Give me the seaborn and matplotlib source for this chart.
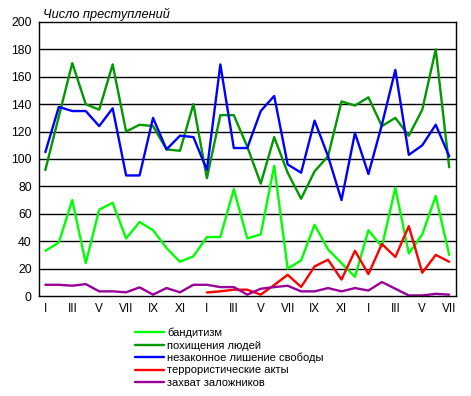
import pandas as pd
import matplotlib.pyplot as plt
import seaborn as sns

# --- dane: miesiące (I..XII, I..XII, I..VII) ---
months = ['I', 'II', 'III', 'IV', 'V', 'VI', 'VII', 'VIII', 'IX', 'X', 'XI', 'XII'] * 2 + \
         ['I', 'II', 'III', 'IV', 'V', 'VI', 'VII']

banditism = [33, 39, 70, 24, 63, 68, 42, 54, 48, 35, 25, 29, 43, 43, 78, 42, 45, 95, 20, 26,
             52, 34, 24, 14, 48, 36, 79, 31, 45, 73, 30]
kidnapping = [92, 131, 170, 140, 136, 169, 120, 125, 124, 107, 106, 140, 86, 132, 132, 109,
              82, 116, 90, 71, 91, 102, 142, 139, 145, 124, 130, 117, 136, 180, 94]
unlawful = [105, 138, 135, 135, 124, 137, 88, 88, 130, 107, 117, 116, 92, 169, 108, 108,
            135, 146, 96, 90, 128, 102, 70, 119, 89, 125, 165, 103, 110, 125, 102]
terror = [None] * 12 + [2.6, 3.4, 4.6, 4.6, 1, 8, 15.5, 6.6, 21.6, 26.5, 12, 33, 16, 38,
                        28.5, 51, 17, 30, 25]
hostages = [8.2, 8.2, 7.5, 8.7, 3.4, 3.4, 2.7, 6.3, 1, 5.8, 2.7, 8.2, 8.2, 6.5, 6.5, 1,
            5.3, 6.5, 7.5, 3.4, 3.4, 5.8, 3.4, 5.8, 4, 10.2, 5.3, 0.4, 0.4, 1.6, 1]

names = ['бандитизм', 'похищения людей', 'незаконное лишение свободы',
         'террористические акты', 'захват заложников']
colors = ['#00FF00', '#009900', '#0000FF', '#FF0000', '#990099']

series = [banditism, kidnapping, unlawful, terror, hostages]
rows = []
for name, vals in zip(names, series):
    for i, v in enumerate(vals):
        if v is not None:
            rows.append({'idx': i, 'value': v, 'series': name})
df = pd.DataFrame(rows)

sns.set_style("white")
plt.rcParams['font.family'] = ['Liberation Sans', 'DejaVu Sans']
plt.rcParams['font.size'] = 8
plt.rcParams['text.color'] = 'black'
plt.rcParams['xtick.color'] = 'black'
plt.rcParams['ytick.color'] = 'black'

fig = plt.figure(figsize=(4.71, 3.96), dpi=100)
ax = fig.add_axes([0.082, 0.2525, 0.886, 0.692])

sns.lineplot(data=df, x='idx', y='value', hue='series', hue_order=names,
             palette=dict(zip(names, colors)), linewidth=1.7, sort=False, ax=ax)

n = len(months)
ax.set_xlim(-0.5, n - 0.5)
ax.set_ylim(0, 200)
ax.set_yticks(range(0, 201, 20))
for y in range(20, 200, 20):
    ax.axhline(y, color='black', linewidth=1, zorder=0)

ax.set_xticks(range(0, n, 2))
ax.set_xticklabels(months[::2])
ax.set_xticks([k + 0.5 for k in range(n)], minor=True)
ax.tick_params(axis='x', which='major', length=0, pad=5, labelsize=8.5, labelcolor='black')
ax.tick_params(axis='x', which='minor', length=4, width=1, color='black', direction='out')
ax.tick_params(axis='y', length=0, pad=5, labelsize=8.7, labelcolor='black')
for s in ax.spines.values():
    s.set_color('black')
    s.set_linewidth(1)
ax.set_xlabel('')
ax.set_ylabel('')

ax.text(0.011, 1.005, 'Число преступлений', transform=ax.transAxes, style='italic',
        fontsize=9.2, ha='left', va='bottom', color='black')

ax.get_legend().remove()
handles, labels = ax.get_legend_handles_labels()
fig.legend(handles, labels, loc='upper left', bbox_to_anchor=(0.287, 0.172), frameon=False,
           fontsize=8, handlelength=2.6, handletextpad=0.3, labelspacing=0.2,
           borderaxespad=0, borderpad=0, labelcolor='black')

plt.savefig('out.png', dpi=100)
plt.close()
